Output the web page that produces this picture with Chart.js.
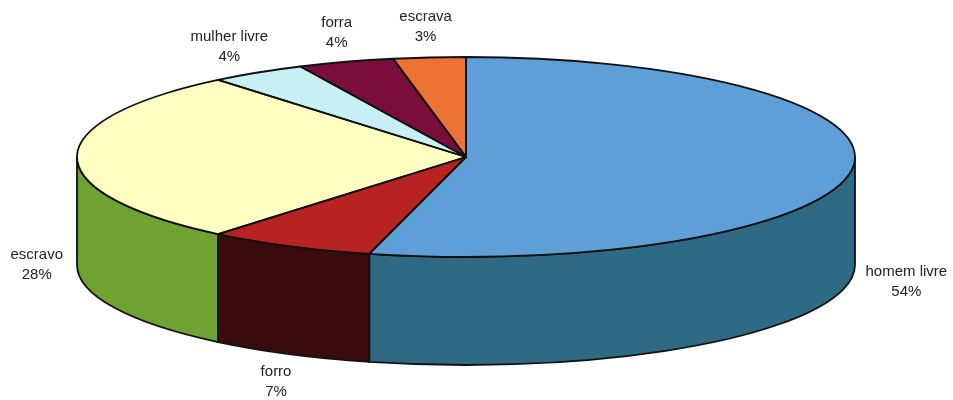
<!doctype html>
<html lang="pt">
<head>
  <meta charset="utf-8">
  <title>Composição</title>
  <script src="https://cdn.jsdelivr.net/npm/chart.js"></script>
  <style>
    html, body { margin: 0; padding: 0; background: #fff; }
    #wrap { width: 953px; height: 400px; }
  </style>
</head>
<body>
  <div id="wrap"><canvas id="pie" width="953" height="400"></canvas></div>
<script>
  const labels = ['homem livre', 'forro', 'escravo', 'mulher livre', 'forra', 'escrava']
  const values = [54, 7, 28, 4, 4, 3]
  const topColors = ['#5f9fd8', '#b82222', '#ffffc2', '#c8f0f4', '#7a0d3a', '#ee7234']
  const sideColors = ['#2f6a84', '#3a0b0d', '#70a232', '#8fc4cc', '#4a0622', '#a04818']

  // flattened disc: horizontal / vertical radius and wall height
  const RX = 389, RY = 100, DEPTH = 108

  let geo = null

  const pie3d = {
    id: 'pie3d',
    beforeDatasetsDraw(chart) {
      const ctx = chart.ctx
      const arcs = chart.getDatasetMeta(0).data
      const cx = arcs[0].x, cy = arcs[0].y, r = arcs[0].outerRadius
      geo = { cx, cy, r }

      // walls of the front half
      arcs.forEach((a, i) => {
        const t0 = Math.max(a.startAngle, 0)
        const t1 = Math.min(a.endAngle, Math.PI)
        if (t1 <= t0) return
        ctx.save()
        ctx.beginPath()
        ctx.ellipse(cx, cy, RX, RY, 0, t0, t1)
        ctx.lineTo(cx + RX * Math.cos(t1), cy + RY * Math.sin(t1) + DEPTH)
        ctx.ellipse(cx, cy + DEPTH, RX, RY, 0, t1, t0, true)
        ctx.closePath()
        ctx.fillStyle = sideColors[i]
        ctx.fill()
        ctx.lineWidth = 1.8
        ctx.strokeStyle = '#111'
        ctx.lineJoin = 'round'
        ctx.stroke()
        ctx.restore()
      })

      // squash the library's circle into the top face
      ctx.save()
      ctx.translate(cx, cy)
      ctx.scale(RX / r, RY / r)
      ctx.translate(-cx, -cy)
    },
    afterDatasetsDraw(chart) {
      const ctx = chart.ctx
      ctx.restore()
      const arcs = chart.getDatasetMeta(0).data
      const { cx, cy } = geo

      arcs.forEach(a => {
        ctx.save()
        ctx.beginPath()
        ctx.moveTo(cx, cy)
        ctx.ellipse(cx, cy, RX, RY, 0, a.startAngle, a.endAngle)
        ctx.closePath()
        ctx.lineWidth = 1.8
        ctx.strokeStyle = '#111'
        ctx.lineJoin = 'round'
        ctx.stroke()
        ctx.restore()
      })

      // labels sit just outside the rim, below the wall on the front half
      ctx.save()
      ctx.font = '15px "Liberation Sans", Arial, sans-serif'
      ctx.fillStyle = '#222'
      ctx.textAlign = 'center'
      ctx.textBaseline = 'middle'
      arcs.forEach((a, i) => {
        const mid = (a.startAngle + a.endAngle) / 2
        const s = Math.sin(mid), c = Math.cos(mid)
        const pct = values[i] + '%'
        const hw = Math.max(ctx.measureText(labels[i]).width, ctx.measureText(pct).width) / 2
        const ex = cx + RX * c
        const ey = cy + RY * s + (s > -0.05 ? DEPTH : 0)
        const x = ex + c * (hw + 14)
        const y = ey + s * 31
        ctx.fillText(labels[i], x, y - 10)
        ctx.fillText(pct, x, y + 10)
      })
      ctx.restore()
    }
  }

  new Chart(document.getElementById('pie'), {
    type: 'pie',
    data: {
      labels: labels,
      datasets: [{
        data: values,
        backgroundColor: topColors,
        borderWidth: 0
      }]
    },
    options: {
      responsive: false,
      animation: false,
      layout: { padding: { left: 0, right: 21, top: 0, bottom: 86 } },
      plugins: {
        legend: { display: false },
        tooltip: { enabled: false }
      }
    },
    plugins: [pie3d]
  })
</script>
</body>
</html>
